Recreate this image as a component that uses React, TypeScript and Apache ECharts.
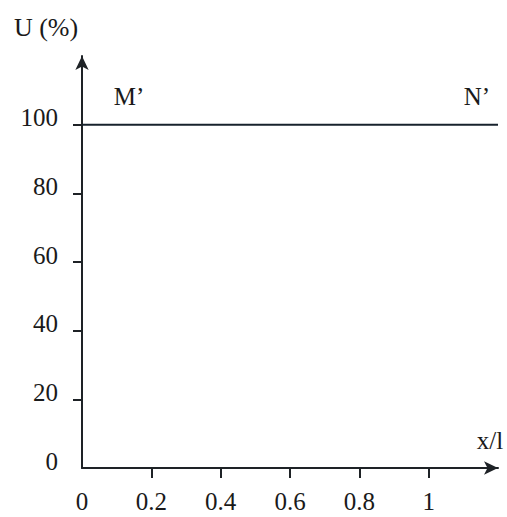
import React, { useEffect, useRef } from "react";
import * as echarts from "echarts";

const xTickValues = [0.2, 0.4, 0.6, 0.8, 1];
const xLabelValues = [0, 0.2, 0.4, 0.6, 0.8, 1];
const yTickValues = [20, 40, 60, 80, 100];
const yLabelValues = [0, 20, 40, 60, 80, 100];
const lineX = [0, 1.2];
const lineU = [100, 100];

const FONT = "Liberation Serif";

export default function App() {
  const ref = useRef<HTMLDivElement>(null);
  useEffect(() => {
    if (!ref.current) return;
    const chart = echarts.init(ref.current, null, { renderer: "svg" });
    chart.setOption({
      animation: false,
      backgroundColor: "#fff",
      grid: { left: 82, right: 9, top: 56, bottom: 49 },
      xAxis: {
        type: "value",
        min: 0,
        max: 1.2,
        interval: 0.2,
        splitLine: { show: false },
        axisLine: {
          show: true,
          lineStyle: { color: "#1e2226", width: 2 },
          symbol: ["none", "arrow"],
          symbolSize: [10, 14],
        },
        axisTick: {
          show: true,
          inside: false,
          length: 10,
          customValues: xTickValues,
          lineStyle: { color: "#1e2226", width: 2 },
        },
        axisLabel: {
          customValues: xLabelValues,
          margin: 21,
          fontFamily: FONT,
          fontSize: 25,
          color: "#1a1a1a",
          formatter: (v: number) => String(v),
        },
      },
      yAxis: {
        type: "value",
        min: 0,
        max: 120,
        interval: 20,
        splitLine: { show: false },
        axisLine: {
          show: true,
          lineStyle: { color: "#1e2226", width: 2 },
          symbol: ["none", "arrow"],
          symbolSize: [10, 14],
        },
        axisTick: {
          show: true,
          inside: false,
          length: 9,
          customValues: yTickValues,
          lineStyle: { color: "#1e2226", width: 2 },
        },
        axisLabel: {
          customValues: yLabelValues,
          margin: 24,
          fontFamily: FONT,
          fontSize: 25,
          color: "#1a1a1a",
          verticalAlign: "bottom",
          lineHeight: 14,
        },
      },
      series: [
        {
          type: "line",
          data: lineX.map((x, i) => [x, lineU[i]]),
          symbol: "none",
          lineStyle: { color: "#17222c", width: 2 },
        },
      ],
      graphic: [
        {
          type: "text",
          x: 46,
          y: 27,
          style: {
            text: "U (%)",
            font: `26px "${FONT}"`,
            fill: "#1a1a1a",
            align: "center",
            verticalAlign: "middle",
          },
        },
        {
          type: "text",
          x: 129,
          y: 96,
          style: {
            text: "M’",
            font: `25px "${FONT}"`,
            fill: "#1a1a1a",
            align: "center",
            verticalAlign: "middle",
          },
        },
        {
          type: "text",
          x: 477,
          y: 96,
          style: {
            text: "N’",
            font: `25px "${FONT}"`,
            fill: "#1a1a1a",
            align: "center",
            verticalAlign: "middle",
          },
        },
        {
          type: "text",
          x: 490,
          y: 440,
          style: {
            text: "x/l",
            font: `25px "${FONT}"`,
            fill: "#1a1a1a",
            align: "center",
            verticalAlign: "middle",
          },
        },
      ],
    });
    return () => chart.dispose();
  }, []);
  return (
    <div
      ref={ref}
      style={{ position: "fixed", left: 0, top: 0, width: 507, height: 517 }}
    />
  );
}
